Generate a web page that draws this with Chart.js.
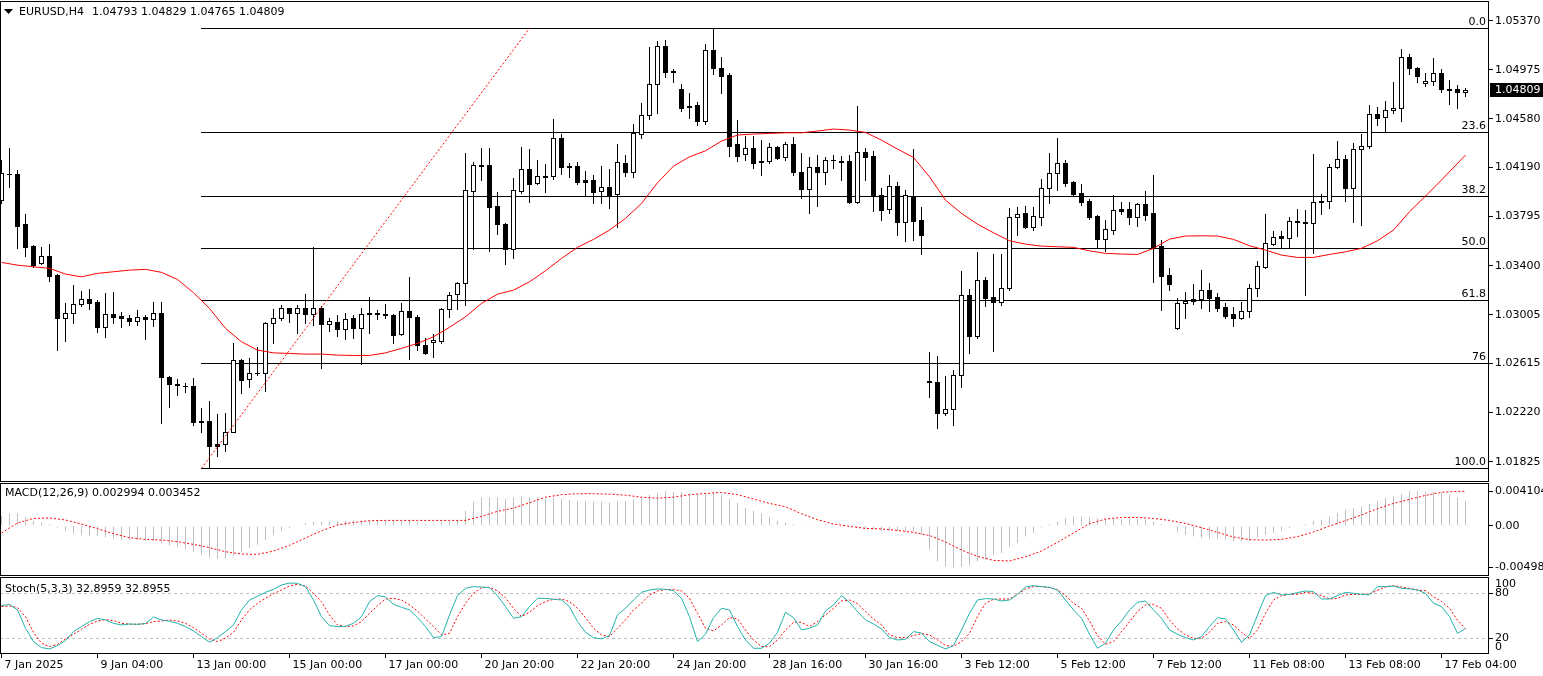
<!DOCTYPE html>
<html>
<head>
<meta charset="utf-8">
<script src="https://cdn.jsdelivr.net/npm/chart.js@4.4.1/dist/chart.umd.min.js"></script>
<style>
    body { margin: 0; background: #fff; width: 1543px; height: 676px; overflow: hidden; position: relative; }
    canvas { position: absolute; left: 0; }
    #mainChart { top: 0; }
    #macdChart { top: 482px; }
    #stochChart { top: 576px; }
</style>
</head>
<body>
<canvas id="mainChart" width="1543" height="482"></canvas>
<canvas id="macdChart" width="1543" height="94"></canvas>
<canvas id="stochChart" width="1543" height="100"></canvas>
<script>
// EURUSD H4 bars, oldest first
const opens = [
    1.03928, 1.04141, 1.04137, 1.03735, 1.03558, 1.03422, 1.03478, 1.03325, 1.02979, 1.03020,
    1.03092, 1.03132, 1.03108, 1.02907, 1.03011, 1.02995, 1.02979, 1.02955, 1.02987, 1.02971,
    1.03020, 1.02505, 1.02449, 1.02433, 1.02433, 1.02151, 1.02151, 1.01966, 1.01966, 1.02063,
    1.02642, 1.02489, 1.02537, 1.02537, 1.02939, 1.02979, 1.03060, 1.03020, 1.03060, 1.03011,
    1.03060, 1.02931, 1.02947, 1.02891, 1.02979, 1.02899, 1.03020, 1.03020, 1.03011, 1.03003,
    1.02851, 1.03036, 1.02987, 1.02762, 1.02786, 1.02794, 1.03056, 1.03172, 1.03261, 1.04000,
    1.04209, 1.04209, 1.03880, 1.03735, 1.03534, 1.04000, 1.04177, 1.04065, 1.04121, 1.04121,
    1.04426, 1.04201, 1.04201, 1.04089, 1.04089, 1.04000, 1.04033, 1.03976, 1.04226, 1.04153,
    1.04459, 1.04611, 1.04861, 1.05166, 1.04965, 1.04820, 1.04684, 1.04692, 1.04563, 1.05134,
    1.04989, 1.04933, 1.04378, 1.04298, 1.04346, 1.04242, 1.04242, 1.04354, 1.04274, 1.04378,
    1.04153, 1.04016, 1.04193, 1.04153, 1.04250, 1.04242, 1.04242, 1.03912, 1.04314, 1.04282,
    1.03968, 1.03856, 1.04041, 1.03751, 1.03952, 1.03767, 1.02473, 1.02465, 1.02215, 1.02248,
    1.02521, 1.03164, 1.02835, 1.03285, 1.03148, 1.03108, 1.03220, 1.03791, 1.03823, 1.03711,
    1.03791, 1.04024, 1.04145, 1.04226, 1.04073, 1.03984, 1.03920, 1.03799, 1.03614, 1.03687,
    1.03856, 1.03856, 1.03791, 1.03896, 1.03823, 1.03558, 1.03325, 1.02899, 1.03100, 1.03132,
    1.03132, 1.03204, 1.03148, 1.03068, 1.03011, 1.02979, 1.03036, 1.03220, 1.03389, 1.03574,
    1.03639, 1.03623, 1.03759, 1.03751, 1.03743, 1.03920, 1.03920, 1.04193, 1.04258, 1.04024,
    1.04338, 1.04362, 1.04619, 1.04595, 1.04652, 1.04668, 1.05078, 1.04989, 1.04869, 1.04885,
    1.04949, 1.04820, 1.04820, 1.04793
];
const highs = [
    1.04250, 1.04346, 1.04169, 1.03815, 1.03565, 1.03550, 1.03574, 1.03330, 1.03100, 1.03245,
    1.03196, 1.03212, 1.03124, 1.03180, 1.03188, 1.03028, 1.03003, 1.03044, 1.03003, 1.03108,
    1.03108, 1.02513, 1.02489, 1.02457, 1.02497, 1.02256, 1.02312, 1.02207, 1.02215, 1.02778,
    1.02648, 1.02658, 1.02746, 1.02947, 1.03052, 1.03084, 1.03064, 1.03084, 1.03172, 1.03550,
    1.03076, 1.02979, 1.03003, 1.03020, 1.03003, 1.03060, 1.03148, 1.03044, 1.03092, 1.03011,
    1.03100, 1.03309, 1.03003, 1.02818, 1.02851, 1.03060, 1.03188, 1.03269, 1.04306, 1.04234,
    1.04346, 1.04346, 1.03992, 1.03740, 1.04105, 1.04354, 1.04338, 1.04250, 1.04218, 1.04579,
    1.04459, 1.04226, 1.04234, 1.04161, 1.04129, 1.04201, 1.04177, 1.04378, 1.04290, 1.04539,
    1.04708, 1.05158, 1.05206, 1.05214, 1.04981, 1.04861, 1.04788, 1.04716, 1.05182, 1.05312,
    1.05078, 1.04949, 1.04571, 1.04443, 1.04443, 1.04410, 1.04386, 1.04360, 1.04394, 1.04435,
    1.04306, 1.04274, 1.04290, 1.04274, 1.04290, 1.04282, 1.04290, 1.04684, 1.04346, 1.04322,
    1.04024, 1.04129, 1.04073, 1.04008, 1.04338, 1.03872, 1.02706, 1.02674, 1.02513, 1.02561,
    1.03357, 1.03212, 1.03510, 1.03309, 1.03494, 1.03494, 1.03864, 1.03872, 1.03880, 1.03872,
    1.04097, 1.04306, 1.04426, 1.04250, 1.04078, 1.04057, 1.03936, 1.03807, 1.03767, 1.03968,
    1.03912, 1.03912, 1.03904, 1.04000, 1.04129, 1.03606, 1.03381, 1.03140, 1.03188, 1.03253,
    1.03365, 1.03261, 1.03180, 1.03100, 1.03068, 1.03108, 1.03253, 1.03438, 1.03815, 1.03679,
    1.03679, 1.03791, 1.03856, 1.03848, 1.04298, 1.03976, 1.04218, 1.04402, 1.04290, 1.04386,
    1.04459, 1.04692, 1.04676, 1.04724, 1.04877, 1.05142, 1.05102, 1.04995, 1.04949, 1.05070,
    1.04981, 1.04893, 1.04853, 1.04829
];
const lows = [
    1.03904, 1.04033, 1.03542, 1.03478, 1.03389, 1.03414, 1.03277, 1.02722, 1.02794, 1.02939,
    1.03076, 1.03052, 1.02867, 1.02827, 1.02939, 1.02907, 1.02923, 1.02923, 1.02810, 1.02915,
    1.02135, 1.02264, 1.02360, 1.02384, 1.02119, 1.02063, 1.01773, 1.01870, 1.01910, 1.02060,
    1.02376, 1.02425, 1.02521, 1.02392, 1.02778, 1.02963, 1.02947, 1.02859, 1.02939, 1.02923,
    1.02577, 1.02875, 1.02835, 1.02810, 1.02818, 1.02609, 1.02859, 1.02971, 1.02979, 1.02778,
    1.02847, 1.02650, 1.02722, 1.02690, 1.02666, 1.02778, 1.02987, 1.03052, 1.03084, 1.03534,
    1.04089, 1.03518, 1.03655, 1.03414, 1.03462, 1.03984, 1.03912, 1.04060, 1.03992, 1.04097,
    1.04137, 1.04113, 1.04057, 1.03960, 1.03904, 1.03904, 1.03864, 1.03711, 1.04121, 1.04113,
    1.04426, 1.04579, 1.04627, 1.04917, 1.04877, 1.04644, 1.04587, 1.04531, 1.04539, 1.04941,
    1.04788, 1.04282, 1.04242, 1.04250, 1.04185, 1.04129, 1.04226, 1.04258, 1.04250, 1.04129,
    1.03944, 1.03823, 1.03880, 1.04057, 1.04185, 1.04089, 1.03904, 1.03904, 1.04089, 1.03840,
    1.03767, 1.03823, 1.03647, 1.03598, 1.03606, 1.03494, 1.02344, 1.02095, 1.02199, 1.02119,
    1.02425, 1.02698, 1.02818, 1.03076, 1.02714, 1.03084, 1.03204, 1.03647, 1.03703, 1.03687,
    1.03727, 1.03904, 1.04008, 1.04041, 1.03960, 1.03888, 1.03775, 1.03550, 1.03518, 1.03655,
    1.03815, 1.03735, 1.03719, 1.03767, 1.03269, 1.03044, 1.03204, 1.02895, 1.02979, 1.03092,
    1.03060, 1.03036, 1.03036, 1.02979, 1.02915, 1.02975, 1.02987, 1.03156, 1.03381, 1.03566,
    1.03542, 1.03542, 1.03639, 1.03164, 1.03502, 1.03815, 1.03864, 1.04185, 1.03920, 1.03751,
    1.03727, 1.04346, 1.04531, 1.04475, 1.04627, 1.04563, 1.04941, 1.04877, 1.04845, 1.04853,
    1.04796, 1.04700, 1.04668, 1.04765
];
const closes = [
    1.04145, 1.04138, 1.03719, 1.03550, 1.03405, 1.03478, 1.03317, 1.02979, 1.03020, 1.03092,
    1.03132, 1.03100, 1.02907, 1.03011, 1.02987, 1.02979, 1.02955, 1.02987, 1.02971, 1.03020,
    1.02505, 1.02449, 1.02445, 1.02430, 1.02143, 1.02148, 1.01950, 1.01950, 1.02063, 1.02642,
    1.02481, 1.02537, 1.02540, 1.02939, 1.02979, 1.03060, 1.03020, 1.03060, 1.03011, 1.03060,
    1.02931, 1.02955, 1.02891, 1.02971, 1.02899, 1.03011, 1.03011, 1.03016, 1.03003, 1.02843,
    1.03036, 1.02987, 1.02762, 1.02698, 1.02802, 1.03056, 1.03164, 1.03261, 1.04008, 1.04209,
    1.04201, 1.03872, 1.03735, 1.03534, 1.04008, 1.04177, 1.04057, 1.04121, 1.04117, 1.04426,
    1.04193, 1.04197, 1.04073, 1.04073, 1.03992, 1.04033, 1.03968, 1.04234, 1.04153, 1.04467,
    1.04611, 1.04861, 1.05166, 1.04957, 1.04957, 1.04668, 1.04680, 1.04563, 1.05134, 1.04989,
    1.04925, 1.04362, 1.04282, 1.04346, 1.04226, 1.04234, 1.04354, 1.04266, 1.04378, 1.04153,
    1.04016, 1.04193, 1.04153, 1.04250, 1.04254, 1.04238, 1.03912, 1.04314, 1.04274, 1.03960,
    1.03848, 1.04041, 1.03751, 1.03968, 1.03759, 1.03647, 1.02469, 1.02215, 1.02248, 1.02521,
    1.03164, 1.02835, 1.03285, 1.03140, 1.03108, 1.03220, 1.03791, 1.03815, 1.03711, 1.03799,
    1.04024, 1.04145, 1.04226, 1.04065, 1.03976, 1.03912, 1.03791, 1.03614, 1.03695, 1.03848,
    1.03840, 1.03791, 1.03896, 1.03807, 1.03542, 1.03317, 1.03253, 1.03100, 1.03116, 1.03116,
    1.03204, 1.03140, 1.03060, 1.02995, 1.02979, 1.03036, 1.03220, 1.03397, 1.03582, 1.03631,
    1.03623, 1.03759, 1.03751, 1.03743, 1.03912, 1.03912, 1.04193, 1.04258, 1.04024, 1.04338,
    1.04362, 1.04619, 1.04587, 1.04652, 1.04668, 1.05078, 1.04989, 1.04925, 1.04885, 1.04949,
    1.04820, 1.04816, 1.04796, 1.04809
];

// moving average, read every second bar (plus the last one)
const maValues = [
    1.03427, 1.03405, 1.03392, 1.03379, 1.03333, 1.03311, 1.03339, 1.03352, 1.03365, 1.03371,
    1.03347, 1.03290, 1.03183, 1.03057, 1.02897, 1.02789, 1.02722, 1.02700, 1.02695, 1.02690,
    1.02690, 1.02682, 1.02679, 1.02679, 1.02700, 1.02736, 1.02776, 1.02829, 1.02905, 1.02990,
    1.03097, 1.03172, 1.03204, 1.03271, 1.03360, 1.03459, 1.03548, 1.03612, 1.03687, 1.03781,
    1.03901, 1.04067, 1.04201, 1.04276, 1.04324, 1.04402, 1.04451, 1.04459, 1.04464, 1.04469,
    1.04469, 1.04483, 1.04499, 1.04491, 1.04472, 1.04410, 1.04338, 1.04271, 1.04115, 1.03928,
    1.03821, 1.03735, 1.03665, 1.03601, 1.03574, 1.03558, 1.03553, 1.03548, 1.03520, 1.03500,
    1.03494, 1.03491, 1.03540, 1.03614, 1.03639, 1.03641, 1.03639, 1.03612, 1.03561, 1.03526,
    1.03486, 1.03467, 1.03467, 1.03491, 1.03512, 1.03540, 1.03601, 1.03687, 1.03834, 1.03960,
    1.04089, 1.04223, 1.04290
];

// fibonacci retracement
const fibLevels = ['0.0', '23.6', '38.2', '50.0', '61.8', '76', '100.0'];
const fibPrices = [1.05309, 1.04474, 1.03958, 1.03541, 1.03123, 1.02621, 1.01772];
const fibStartBar = 25;
const trendBars = [25, 66];
const trendPrices = [1.01772, 1.05309];

const priceTicks = [1.05370, 1.04975, 1.04580, 1.04190, 1.03795, 1.03400, 1.03005, 1.02615, 1.02220, 1.01825];

// MACD(12,26,9)
const macdHist = [
    0.00119, 0.00143, 0.00149, 0.00107, 0.00060, 0.00042, 0.00018, -0.00024, -0.00066, -0.00095,
    -0.00113, -0.00119, -0.00119, -0.00137, -0.00155, -0.00167, -0.00167, -0.00167, -0.00179, -0.00185,
    -0.00209, -0.00239, -0.00256, -0.00274, -0.00304, -0.00346, -0.00382, -0.00394, -0.00394, -0.00358,
    -0.00310, -0.00268, -0.00227, -0.00173, -0.00113, -0.00066, -0.00030, 0.00006, 0.00030, 0.00048,
    0.00054, 0.00054, 0.00060, 0.00060, 0.00060, 0.00060, 0.00060, 0.00060, 0.00060, 0.00054,
    0.00054, 0.00060, 0.00042, 0.00024, 0.00024, 0.00036, 0.00048, 0.00066, 0.00179, 0.00286,
    0.00334, 0.00334, 0.00334, 0.00322, 0.00334, 0.00346, 0.00340, 0.00334, 0.00322, 0.00334,
    0.00322, 0.00310, 0.00298, 0.00292, 0.00286, 0.00286, 0.00280, 0.00292, 0.00292, 0.00310,
    0.00334, 0.00370, 0.00394, 0.00410, 0.00406, 0.00400, 0.00388, 0.00376, 0.00394, 0.00394,
    0.00370, 0.00322, 0.00274, 0.00215, 0.00179, 0.00143, 0.00107, 0.00060, 0.00039, 0.00020,
    0.00012, 0.00012, 0.00012, 0.00020, 0.00012, -0.00001, -0.00012, -0.00030, -0.00042, -0.00048,
    -0.00060, -0.00060, -0.00066, -0.00066, -0.00072, -0.00107, -0.00286, -0.00426, -0.00486, -0.00498,
    -0.00489, -0.00477, -0.00426, -0.00406, -0.00346, -0.00326, -0.00247, -0.00206, -0.00128, -0.00087,
    -0.00020, 0.00020, 0.00051, 0.00092, 0.00111, 0.00111, 0.00099, 0.00092, 0.00084, 0.00084,
    0.00084, 0.00084, 0.00084, 0.00072, 0.00051, 0.00020, 0.00012, -0.00080, -0.00107, -0.00128,
    -0.00147, -0.00155, -0.00155, -0.00167, -0.00187, -0.00187, -0.00179, -0.00140, -0.00107, -0.00087,
    -0.00060, -0.00027, 0.00001, 0.00020, 0.00060, 0.00072, 0.00111, 0.00152, 0.00191, 0.00211,
    0.00230, 0.00259, 0.00290, 0.00330, 0.00350, 0.00378, 0.00410, 0.00410, 0.00406, 0.00406,
    0.00394, 0.00370, 0.00334, 0.00299
];
// signal line, read every second bar (plus the last one)
const macdSignal = [
    -0.00087, 0.00032, 0.00087, 0.00092, 0.00068, 0.00020, -0.00036, -0.00095, -0.00143, -0.00163,
    -0.00171, -0.00191, -0.00223, -0.00262, -0.00310, -0.00338, -0.00342, -0.00302, -0.00235, -0.00147,
    -0.00060, 0.00008, 0.00039, 0.00060, 0.00063, 0.00063, 0.00063, 0.00063, 0.00063, 0.00063,
    0.00111, 0.00171, 0.00211, 0.00274, 0.00340, 0.00370, 0.00382, 0.00382, 0.00376, 0.00364,
    0.00340, 0.00328, 0.00340, 0.00370, 0.00385, 0.00397, 0.00370, 0.00319, 0.00266, 0.00227,
    0.00143, 0.00072, 0.00020, -0.00008, -0.00032, -0.00039, -0.00056, -0.00080, -0.00116, -0.00194,
    -0.00290, -0.00366, -0.00414, -0.00421, -0.00370, -0.00302, -0.00199, -0.00087, 0.00024, 0.00080,
    0.00099, 0.00099, 0.00087, 0.00063, 0.00027, -0.00024, -0.00080, -0.00135, -0.00167, -0.00171,
    -0.00163, -0.00131, -0.00075, -0.00004, 0.00060, 0.00128, 0.00203, 0.00266, 0.00314, 0.00361,
    0.00398, 0.00410, 0.00410
];
const macdTicks = [0.004104, 0, -0.00498];
const macdTickLabels = ['0.004104', '0.00', '-0.00498'];

// Stochastic(5,3,3)
const stochMain = [
    63.5, 65.3, 57.8, 33.4, 15.6, 7.6, 5.8, 10.3, 16.9, 28.9,
    35.6, 42.2, 46.7, 44.5, 40.0, 37.8, 39.1, 38.7, 39.6, 48.5,
    44.5, 42.7, 40.0, 35.6, 29.8, 22.3, 14.7, 20.9, 28.9, 37.8,
    57.8, 71.1, 76.0, 81.3, 85.3, 91.1, 93.7, 93.3, 88.9, 71.1,
    48.9, 36.9, 35.6, 36.0, 40.0, 48.9, 68.9, 76.9, 75.1, 65.3,
    61.3, 57.8, 47.6, 35.6, 20.9, 22.3, 51.1, 76.9, 86.6, 88.9,
    88.4, 87.5, 76.9, 62.2, 46.7, 48.9, 62.2, 73.3, 73.3, 72.0,
    71.1, 62.2, 42.2, 28.0, 20.9, 19.2, 23.6, 51.1, 60.0, 71.1,
    81.3, 84.4, 85.8, 85.3, 83.5, 73.3, 48.9, 15.6, 25.4, 47.6,
    60.0, 57.8, 35.6, 17.8, 6.7, 6.7, 13.4, 28.0, 54.7, 47.6,
    31.1, 33.4, 37.8, 56.4, 64.4, 76.9, 68.0, 55.6, 44.5, 39.1,
    32.5, 20.9, 17.8, 18.7, 28.9, 27.1, 15.6, 10.7, 5.8, 10.3,
    31.1, 53.3, 71.1, 72.9, 72.4, 69.8, 71.1, 78.6, 88.4, 90.2,
    88.9, 88.0, 84.4, 71.1, 57.8, 46.7, 25.4, 6.7, 13.4, 31.1,
    43.1, 57.8, 68.0, 69.8, 57.8, 46.7, 31.1, 25.4, 20.9, 17.8,
    22.3, 35.6, 47.6, 45.8, 31.1, 14.7, 24.5, 51.1, 76.9, 81.3,
    77.8, 78.6, 80.9, 83.1, 82.2, 72.4, 72.4, 76.9, 81.3, 80.0,
    78.6, 77.8, 88.9, 88.9, 89.7, 86.6, 85.8, 84.4, 80.0, 66.7,
    62.2, 48.9, 26.7, 32.9
];
const stochSignal = [
    62.2, 63.1, 60.9, 48.9, 28.0, 13.4, 8.9, 12.0, 19.2, 25.4,
    32.0, 38.7, 43.1, 44.9, 43.6, 40.0, 38.7, 38.7, 39.6, 42.2,
    43.1, 44.5, 43.1, 40.0, 34.2, 26.7, 19.2, 15.6, 20.0, 28.0,
    44.5, 57.8, 66.7, 73.3, 79.5, 84.4, 89.7, 92.0, 89.7, 80.0,
    68.9, 51.1, 37.8, 35.6, 36.5, 42.2, 53.3, 63.5, 72.4, 73.3,
    71.1, 64.4, 56.4, 45.8, 35.6, 24.5, 26.7, 48.9, 66.7, 80.0,
    87.5, 88.0, 83.1, 74.2, 60.0, 48.9, 54.7, 63.5, 68.9, 72.0,
    72.4, 68.9, 60.0, 47.6, 33.4, 24.5, 22.3, 33.4, 44.5, 57.8,
    66.7, 77.8, 83.1, 84.9, 85.3, 83.1, 73.3, 53.3, 33.4, 29.8,
    37.8, 47.6, 45.8, 31.1, 17.8, 8.9, 8.9, 17.8, 31.1, 41.3,
    41.3, 35.6, 42.2, 51.1, 60.0, 69.8, 71.1, 66.2, 55.6, 45.8,
    37.8, 24.5, 20.9, 20.9, 23.6, 26.3, 24.5, 17.8, 10.3, 9.4,
    15.6, 26.7, 48.9, 66.7, 72.0, 72.4, 72.4, 78.6, 85.8, 88.9,
    88.9, 87.5, 84.9, 76.9, 66.7, 60.0, 43.1, 23.6, 12.0, 15.6,
    28.9, 42.2, 55.6, 64.4, 65.3, 60.0, 44.5, 32.5, 24.5, 20.0,
    20.0, 28.0, 40.0, 42.2, 37.8, 28.0, 20.0, 31.1, 53.3, 71.1,
    76.9, 78.6, 78.6, 81.3, 80.0, 76.9, 72.4, 73.3, 77.8, 78.6,
    78.6, 79.1, 84.0, 88.4, 90.2, 88.4, 86.6, 84.4, 83.5, 75.5,
    68.9, 60.0, 44.0, 32.9
];
const stochLevels = [80, 20];

const xTickBars = [0, 12, 24, 36, 48, 60, 72, 84, 96, 108, 120, 132, 144, 156, 168, 180];
const xLabels = ['7 Jan 2025', '9 Jan 04:00', '13 Jan 00:00', '15 Jan 00:00', '17 Jan 00:00', '20 Jan 20:00',
    '22 Jan 20:00', '24 Jan 20:00', '28 Jan 16:00', '30 Jan 16:00', '3 Feb 12:00', '5 Feb 12:00',
    '7 Feb 12:00', '11 Feb 08:00', '13 Feb 08:00', '17 Feb 04:00'];

const symbolName = 'EURUSD,H4';
const macdTitle = 'MACD(12,26,9) 0.002994 0.003452';
const stochTitle = 'Stoch(5,3,3) 32.8959 32.8955';

const barIdx = opens.map((_, i) => i);
const last = opens.length - 1;
const FONT = '11px "DejaVu Sans"';

Chart.defaults.font.family = 'DejaVu Sans';
Chart.defaults.font.size = 11;
Chart.defaults.color = '#000';

function everyOther(vals) {
    return vals.map((v, i) => ({ x: Math.min(i * 2, last), y: v }));
}

function barAxis(show) {
    return {
        type: 'linear', min: -0.1875, max: 185.9375, offset: false, display: show,
        grid: { drawOnChartArea: false, drawTicks: true, tickLength: 4, color: '#000' },
        border: { display: false },
        ticks: {
            autoSkip: false, maxRotation: 0, align: 'start', labelOffset: 3, padding: 1, color: '#000',
            callback: (v, i) => xLabels[i]
        },
        afterBuildTicks: ax => { ax.ticks = xTickBars.map(v => ({ value: v })); },
        afterFit: ax => {
            ax.height = show ? 22 : 0;
            ax.paddingLeft = 0;
            ax.paddingRight = 0;
        }
    };
}

function rightAxis(min, max, tickVals, fmt) {
    return {
        position: 'right', min: min, max: max,
        grid: { drawOnChartArea: false, drawTicks: true, tickLength: 4, color: '#000' },
        border: { display: false },
        ticks: { padding: 2, color: '#000', autoSkip: false, callback: fmt },
        afterBuildTicks: ax => { ax.ticks = tickVals.map(v => ({ value: v })); },
        afterFit: ax => { ax.width = 54; ax.paddingTop = 0; ax.paddingBottom = 0; }
    };
}

const framePlugin = {
    id: 'frame',
    afterDraw(chart) {
        const { ctx, chartArea: a } = chart;
        ctx.save();
        ctx.strokeStyle = '#000';
        ctx.lineWidth = 1;
        ctx.strokeRect(a.left + 0.5, a.top + 0.5, a.right - a.left - 1, a.bottom - a.top - 1);
        ctx.restore();
    }
};

const baseOptions = {
    responsive: false, animation: false, devicePixelRatio: 1, events: [],
    plugins: { legend: { display: false }, tooltip: { enabled: false } }
};

// main price window: fib lines + candles drawn below the MA line
const candlePlugin = {
    id: 'candles',
    beforeDatasetsDraw(chart) {
        const { ctx, chartArea: a, scales: { x, y } } = chart;
        ctx.save();
        ctx.beginPath();
        ctx.rect(a.left, a.top, a.right - a.left, a.bottom - a.top);
        ctx.clip();

        ctx.fillStyle = '#000';
        ctx.font = FONT;
        ctx.textAlign = 'right';
        ctx.textBaseline = 'bottom';
        const fx = Math.floor(x.getPixelForValue(fibStartBar));
        fibPrices.forEach((p, i) => {
            const fy = Math.round(y.getPixelForValue(p));
            ctx.fillRect(fx, fy, a.right - fx, 1);
            ctx.fillText(fibLevels[i], a.right - 3, fy);
        });

        for (let i = 0; i < opens.length; i++) {
            const cx = Math.floor(x.getPixelForValue(i));
            const yo = Math.round(y.getPixelForValue(opens[i]));
            const yc = Math.round(y.getPixelForValue(closes[i]));
            const yh = Math.round(y.getPixelForValue(highs[i]));
            const yl = Math.round(y.getPixelForValue(lows[i]));
            const top = Math.min(yo, yc), bot = Math.max(yo, yc);
            ctx.fillStyle = '#000';
            ctx.fillRect(cx, yh, 1, yl - yh + 1);
            ctx.fillRect(cx - 2, top, 5, bot - top + 1);
            if (closes[i] > opens[i] && bot - top >= 2) {
                ctx.fillStyle = '#fff';
                ctx.fillRect(cx - 1, top + 1, 3, bot - top - 1);
            }
        }
        ctx.restore();
    },
    afterDraw(chart) {
        const { ctx, chartArea: a, scales: { y } } = chart;
        ctx.save();
        // bid price box on the axis
        const py = Math.round(y.getPixelForValue(closes[last]));
        ctx.fillStyle = '#000';
        ctx.fillRect(a.right + 1, py - 7, chart.width - a.right - 1, 14);
        ctx.fillStyle = '#fff';
        ctx.font = FONT;
        ctx.textAlign = 'left';
        ctx.textBaseline = 'middle';
        ctx.fillText(closes[last].toFixed(5), a.right + 6, py);
        // header
        ctx.fillStyle = '#000';
        ctx.beginPath();
        ctx.moveTo(4, 9);
        ctx.lineTo(13, 9);
        ctx.lineTo(8.5, 14);
        ctx.closePath();
        ctx.fill();
        ctx.fillText(symbolName, 19, 12);
        ctx.fillText([opens[last], highs[last], lows[last], closes[last]].map(v => v.toFixed(5)).join(' '), 92, 12);
        ctx.restore();
    }
};

new Chart(document.getElementById('mainChart'), {
    type: 'line',
    data: {
        datasets: [{
            data: everyOther(maValues),
            borderColor: '#ff0000', borderWidth: 1, pointRadius: 0, tension: 0
        }, {
            data: trendBars.map((b, i) => ({ x: b, y: trendPrices[i] })),
            borderColor: '#ff0000', borderWidth: 1, borderDash: [2, 2], pointRadius: 0
        }]
    },
    options: {
        ...baseOptions,
        layout: { padding: { top: 1, left: 0, right: 0, bottom: 0 } },
        scales: {
            x: barAxis(false),
            y: rightAxis(1.016618, 1.055284, priceTicks, v => v.toFixed(5))
        }
    },
    plugins: [candlePlugin, framePlugin]
});

new Chart(document.getElementById('macdChart'), {
    type: 'bar',
    data: {
        labels: barIdx,
        datasets: [{
            type: 'bar', data: macdHist, backgroundColor: '#c0c0c0',
            barThickness: 1, borderWidth: 0, inflateAmount: 0, order: 2
        }, {
            type: 'line', data: everyOther(macdSignal), borderColor: '#ff0000',
            borderWidth: 1, borderDash: [2, 2], pointRadius: 0, order: 1
        }]
    },
    options: {
        ...baseOptions,
        layout: { padding: { top: 1, left: 0, right: 0, bottom: 0 } },
        scales: {
            x: barAxis(false),
            y: rightAxis(-0.006001, 0.005094, macdTicks, (v, i) => macdTickLabels[i])
        }
    },
    plugins: [framePlugin, {
        id: 'macdTitle',
        afterDraw(chart) {
            const ctx = chart.ctx;
            ctx.save();
            ctx.fillStyle = '#000';
            ctx.font = FONT;
            ctx.textAlign = 'left';
            ctx.textBaseline = 'middle';
            ctx.fillText(macdTitle, 5, 11);
            ctx.restore();
        }
    }]
});

new Chart(document.getElementById('stochChart'), {
    type: 'line',
    data: {
        labels: barIdx,
        datasets: [{
            data: stochMain, borderColor: '#20b2aa', borderWidth: 1, pointRadius: 0, tension: 0
        }, {
            data: stochSignal, borderColor: '#ff0000', borderWidth: 1, borderDash: [2, 2], pointRadius: 0, tension: 0
        }]
    },
    options: {
        ...baseOptions,
        layout: { padding: { top: 1, left: 0, right: 0, bottom: 0 } },
        scales: {
            x: barAxis(true),
            y: rightAxis(-0.93, 101.73, stochLevels, v => String(v))
        }
    },
    plugins: [framePlugin, {
        id: 'stochExtras',
        beforeDatasetsDraw(chart) {
            const { ctx, chartArea: a, scales: { y } } = chart;
            ctx.save();
            ctx.strokeStyle = '#c0c0c0';
            ctx.lineWidth = 1;
            ctx.setLineDash([3, 3]);
            stochLevels.forEach(l => {
                const ly = Math.round(y.getPixelForValue(l)) + 0.5;
                ctx.beginPath();
                ctx.moveTo(a.left, ly);
                ctx.lineTo(a.right, ly);
                ctx.stroke();
            });
            ctx.restore();
        },
        afterDraw(chart) {
            const { ctx, chartArea: a } = chart;
            ctx.save();
            ctx.fillStyle = '#000';
            ctx.font = FONT;
            ctx.textAlign = 'left';
            ctx.textBaseline = 'middle';
            ctx.fillText(stochTitle, 5, 13);
            // window max/min labels sit inside the frame
            ctx.fillText('100', a.right + 6, a.top + 7);
            ctx.fillText('0', a.right + 6, a.bottom - 7);
            ctx.restore();
        }
    }]
});
</script>
</body>
</html>
